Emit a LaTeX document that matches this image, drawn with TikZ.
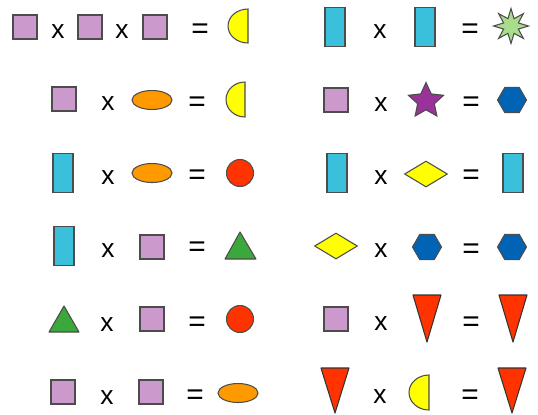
\documentclass[tikz,border=0pt]{standalone}
\usepackage{fontspec}
\setmainfont{Liberation Sans}
\usetikzlibrary{shapes.geometric}
\definecolor{shLilac}{HTML}{CC99CC}
\definecolor{shCyan}{HTML}{3BC0DC}
\definecolor{shOrange}{HTML}{FF9900}
\definecolor{shYellow}{HTML}{FFFF00}
\definecolor{shRed}{HTML}{FF3300}
\definecolor{shGreen}{HTML}{3AA83A}
\definecolor{shMint}{HTML}{A8DD8C}
\definecolor{shPurple}{HTML}{993399}
\definecolor{shBlue}{HTML}{0063B4}
\tikzset{
  piece/.style={draw=black!70, line width=0.6pt, inner sep=0pt},
  sq/.style={piece, rectangle, fill=shLilac, minimum size=0.48cm},
  bar/.style={piece, rectangle, fill=shCyan, minimum width=0.4cm, minimum height=0.78cm},
  egg/.style={piece, ellipse, fill=shOrange, minimum width=0.8cm, minimum height=0.38cm},
  ball/.style={piece, circle, fill=shRed, minimum size=0.54cm},
  gem/.style={piece, diamond, fill=shYellow, minimum width=0.86cm, minimum height=0.52cm},
  hexa/.style={piece, regular polygon, regular polygon sides=6, fill=shBlue, minimum size=0.58cm},
  burst/.style={piece, star, star points=8, star point ratio=2.2, fill=shMint, minimum size=0.7cm},
  pent/.style={piece, star, star points=5, star point ratio=2.1, fill=shPurple, minimum size=0.74cm},
  half/.style={draw=black!70, line width=0.6pt, fill=shYellow},
  redtri/.style={draw=black!80, line width=0.6pt, fill=shRed, line join=round},
  greentri/.style={draw=black!70, line width=0.6pt, fill=shGreen, line join=round},
  mul/.style={inner sep=0pt, font=\fontsize{15}{15}\selectfont, yshift=-0.07cm},
  eq/.style={inner sep=0pt, font=\fontsize{17}{17}\selectfont, yshift=-0.08cm},
}
\begin{document}
\begin{tikzpicture}[x=0.02cm, y=-0.02cm]
\useasboundingbox (0,0) rectangle (538,414);
% left column
\node[sq] at (25,27) (L1a) {};
\node[mul] at (58,28) (L1x) {x};
\node[sq] at (90,27) (L1b) {};
\node[mul] at (122,28) (L1y) {x};
\node[sq] at (155,27) (L1c) {};
\node[eq] at (200,27) (L1eq) {=};
\draw[half] (248,9) arc[start angle=90, end angle=270, x radius=0.4cm, y radius=0.34cm] -- cycle;

\node[sq] at (64,99) (L2a) {};
\node[mul] at (108,100) (L2x) {x};
\node[egg] at (152,100) (L2b) {};
\node[eq] at (197,100) (L2eq) {=};
\draw[half] (245,82) arc[start angle=90, end angle=270, x radius=0.38cm, y radius=0.35cm] -- cycle;

\node[bar] at (63,173) (L3a) {};
\node[mul] at (108,174) (L3x) {x};
\node[egg] at (152,173) (L3b) {};
\node[eq] at (197,173) (L3eq) {=};
\node[ball] at (240,173) (L3res) {};

\node[bar] at (64,246) (L4a) {};
\node[mul] at (108,247) (L4x) {x};
\node[sq] at (152,247) (L4b) {};
\node[eq] at (197,245) (L4eq) {=};
\draw[greentri] (240,232) -- (256,259) -- (225,259) -- cycle;

\draw[greentri] (64,306) -- (79,332) -- (49,332) -- cycle;
\node[mul] at (107,321) (L5x) {x};
\node[sq] at (152,319) (L5b) {};
\node[eq] at (197,320) (L5eq) {=};
\node[ball] at (240,319) (L5res) {};

\node[sq] at (63,392) (L6a) {};
\node[mul] at (107,394) (L6x) {x};
\node[sq] at (151,392) (L6b) {};
\node[eq] at (195,393) (L6eq) {=};
\node[egg] at (238,393) (L6res) {};
% right column
\node[bar] at (335,27) (R1a) {};
\node[mul] at (380,28) (R1x) {x};
\node[bar] at (425,27) (R1b) {};
\node[eq] at (470,27) (R1eq) {=};
\node[burst] at (511,26) (R1res) {};

\node[sq] at (336,100) (R2a) {};
\node[mul] at (381,101) (R2x) {x};
\node[pent] at (426,101) (R2b) {};
\node[eq] at (471,100) (R2eq) {=};
\node[hexa] at (512,100) (R2res) {};

\node[bar] at (337,173) (R3a) {};
\node[mul] at (381,174) (R3x) {x};
\node[gem] at (426,174) (R3b) {};
\node[eq] at (471,173) (R3eq) {=};
\node[bar] at (513,173) (R3res) {};

\node[gem] at (336,246) (R4a) {};
\node[mul] at (381,247) (R4x) {x};
\node[hexa] at (427,247) (R4b) {};
\node[eq] at (471,247) (R4eq) {=};
\node[hexa] at (512,247) (R4res) {};

\node[sq] at (336,319) (R5a) {};
\node[mul] at (381,320) (R5x) {x};
\draw[redtri] (413,295) -- (441,295) -- (427,342) -- cycle;
\node[eq] at (471,320) (R5eq) {=};
\draw[redtri] (499,295) -- (527,295) -- (513,342) -- cycle;

\draw[redtri] (321,368) -- (349,368) -- (335,413) -- cycle;
\node[mul] at (380,393) (R6x) {x};
\draw[half] (429,375) arc[start angle=90, end angle=270, x radius=0.4cm, y radius=0.35cm] -- cycle;
\node[eq] at (470,393) (R6eq) {=};
\draw[redtri] (498,368) -- (526,368) -- (512,413) -- cycle;
\end{tikzpicture}
\end{document}
